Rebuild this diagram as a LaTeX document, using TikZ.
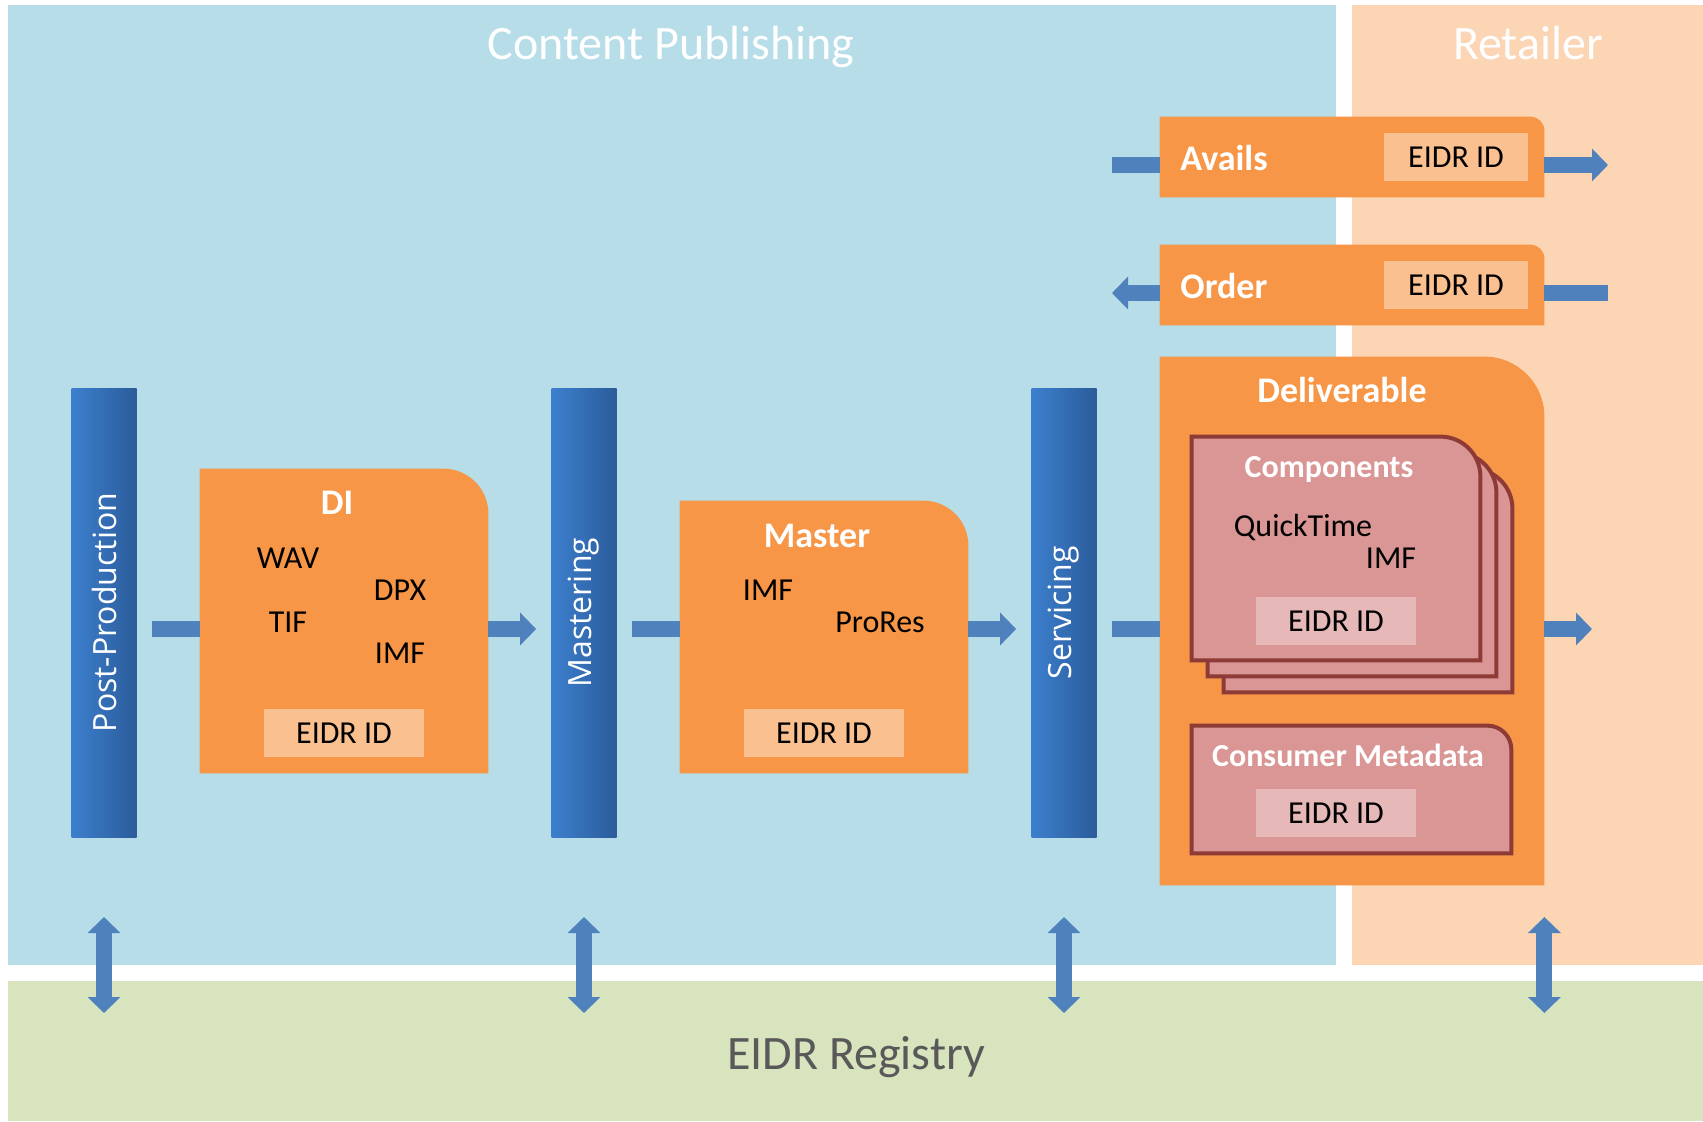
\documentclass[tikz,border=0pt]{standalone}
\usepackage{fontspec}
\setmainfont{Carlito}
\newfontfamily\barfont{Open Sans}
\usetikzlibrary{arrows.meta}

\definecolor{pubblue}{HTML}{B7DEE8}
\definecolor{retailpeach}{HTML}{FCD5B5}
\definecolor{reggreen}{HTML}{D7E4BD}
\definecolor{regtext}{HTML}{595959}
\definecolor{boxorange}{HTML}{F79646}
\definecolor{idpeach}{HTML}{FAC090}
\definecolor{cardfill}{HTML}{D99694}
\definecolor{cardline}{HTML}{8E3A37}
\definecolor{cardid}{HTML}{E6B9B8}
\definecolor{flowblue}{HTML}{4F81BD}
\definecolor{barlight}{HTML}{3C7FCE}
\definecolor{bardark}{HTML}{2C5C9A}

\tikzset{
    paneltitle/.style={text=white, font=\fontsize{24}{29}\selectfont},
    boxtitle/.style={text=white, font=\bfseries\fontsize{18}{22}\selectfont},
    cardtitle/.style={text=white, font=\bfseries\fontsize{16}{19}\selectfont},
    item/.style={font=\fontsize{16}{19}\selectfont},
    idbox/.style={fill=idpeach, minimum width=80pt, minimum height=24pt, inner sep=0pt, font=\fontsize{16}{19}\selectfont},
    stage/.style={minimum width=32.5pt, minimum height=224.5pt, inner sep=0pt, left color=barlight, right color=bardark, text=white, font=\barfont\fontsize{16}{19}\selectfont},
    slot/.style={inner sep=0pt},
    stub/.style={draw=flowblue, line width=8pt},
    flow/.style={stub, -{Triangle[width=16pt, length=8pt]}},
    updown/.style={stub, {Triangle[width=16pt, length=8pt]}-{Triangle[width=16pt, length=8pt]}}
}

% box with one rounded corner (north east)
\newcommand{\tabfill}[3]{%
    \path[#1] (#2.south west) -- (#2.north west) -- ([xshift=-#3]#2.north east)
        arc[start angle=90, end angle=0, radius=#3] -- (#2.south east) -- cycle;}

\begin{document}
\begin{tikzpicture}[x=0.5pt, y=-0.5pt]
    \useasboundingbox (0,0) rectangle (1703,1121);
    \fill[white] (0,0) rectangle (1703,1121);

    % panels
    \fill[pubblue] (8,5) rectangle (1336,965);
    \fill[retailpeach] (1352,5) rectangle (1703,965);
    \fill[reggreen] (8,981) rectangle (1703,1121);
    \node[paneltitle] (pubtitle) at (671,47) {Content Publishing};
    \node[paneltitle] (rettitle) at (1528,43) {Retailer};
    \node[paneltitle, text=regtext] (regtitle) at (856,1057) {EIDR Registry};

    % stages
    \node[stage] (post) at (104,612.5) {\rotatebox{90}{Post-Production}};
    \node[stage] (mastering) at (584,612.5) {\rotatebox{90}{Mastering}};
    \node[stage] (servicing) at (1064,612.5) {\rotatebox{90}{Servicing}};

    % DI
    \node[slot, minimum width=144pt, minimum height=152pt] (di) at (344,621) {};
    \tabfill{fill=boxorange}{di}{22.5pt}
    \node[boxtitle] (dititle) at (337,503) {DI};
    \node[item] (diwav) at (288,558) {WAV};
    \node[item] (didpx) at (400,590) {DPX};
    \node[item] (ditif) at (288,622) {TIF};
    \node[item] (diimf) at (400,653) {IMF};
    \node[idbox] (diid) at (344,733) {EIDR ID};

    % Master
    \node[slot, minimum width=144pt, minimum height=136pt] (master) at (824,637) {};
    \tabfill{fill=boxorange}{master}{22.5pt}
    \node[boxtitle] (mastertitle) at (817,536) {Master};
    \node[item] (masterimf) at (768,590) {IMF};
    \node[item] (masterprores) at (880,622) {ProRes};
    \node[idbox] (masterid) at (824,733) {EIDR ID};

    % Avails and Order
    \node[slot, minimum width=192pt, minimum height=40pt] (avails) at (1352,157) {};
    \tabfill{fill=boxorange}{avails}{7pt}
    \node[boxtitle, anchor=base west, inner sep=0pt] (availslbl) at (1180,170) {Avails};
    \node[idbox, minimum width=72pt] (availsid) at (1456,157) {EIDR ID};

    \node[slot, minimum width=192pt, minimum height=40pt] (order) at (1352,285) {};
    \tabfill{fill=boxorange}{order}{7pt}
    \node[boxtitle, anchor=base west, inner sep=0pt] (orderlbl) at (1180,298) {Order};
    \node[idbox, minimum width=72pt] (orderid) at (1456,285) {EIDR ID};

    % Deliverable
    \node[slot, minimum width=192pt, minimum height=264pt] (deliv) at (1352,621) {};
    \tabfill{fill=boxorange}{deliv}{30pt}
    \node[boxtitle] (delivtitle) at (1342,390) {Deliverable};

    \foreach \k/\s in {3/32, 2/16, 1/0}
    {
        \node[slot, minimum width=144pt, minimum height=111.5pt] (comp\k) at ({1336+\s},{548.5+\s}) {};
        \tabfill{fill=cardfill, draw=cardline, line width=2pt}{comp\k}{20pt}
    }
    \node[cardtitle] (comptitle) at (1329,470) {Components};
    \node[item] (compqt) at (1303,527) {QuickTime};
    \node[item] (compimf) at (1391,558) {IMF};
    \node[idbox, fill=cardid] (compid) at (1336,621) {EIDR ID};

    \node[slot, minimum width=159.5pt, minimum height=63.5pt] (meta) at (1351.5,789.5) {};
    \tabfill{fill=cardfill, draw=cardline, line width=2pt}{meta}{12pt}
    \node[cardtitle] (metatitle) at (1348,755) {Consumer Metadata};
    \node[idbox, fill=cardid] (metaid) at (1336,813) {EIDR ID};

    % flow along the chain
    \coordinate (flowrow) at (0,629);
    \coordinate (delivout) at (1592,629);
    \draw[stub, shorten <=7.5pt] (post.east |- flowrow) -- (di.west |- flowrow);
    \draw[flow, shorten >=7.5pt] (di.east |- flowrow) -- (mastering.west |- flowrow);
    \draw[stub, shorten <=7.5pt] (mastering.east |- flowrow) -- (master.west |- flowrow);
    \draw[flow, shorten >=7.5pt] (master.east |- flowrow) -- (servicing.west |- flowrow);
    \draw[stub, shorten <=7.5pt] (servicing.east |- flowrow) -- (deliv.west |- flowrow);
    \draw[flow] (deliv.east |- flowrow) -- (delivout);

    % avails / order
    \coordinate (availsin) at (1112,165);
    \coordinate (availsout) at (1608,165);
    \draw[stub] (availsin) -- (avails.west |- availsin);
    \draw[flow] (avails.east |- availsout) -- (availsout);
    \coordinate (orderin) at (1608,293);
    \coordinate (orderout) at (1112,293);
    \draw[stub] (orderin) -- (order.east |- orderin);
    \draw[flow] (order.west |- orderout) -- (orderout);

    % registry links
    \coordinate (regtop) at (0,917);
    \coordinate (regbot) at (0,1013);
    \foreach \n in {post, mastering, servicing}
        \draw[updown] (\n |- regtop) -- (\n |- regbot);
    \draw[updown] (deliv.east |- regtop) -- (deliv.east |- regbot);
\end{tikzpicture}
\end{document}
